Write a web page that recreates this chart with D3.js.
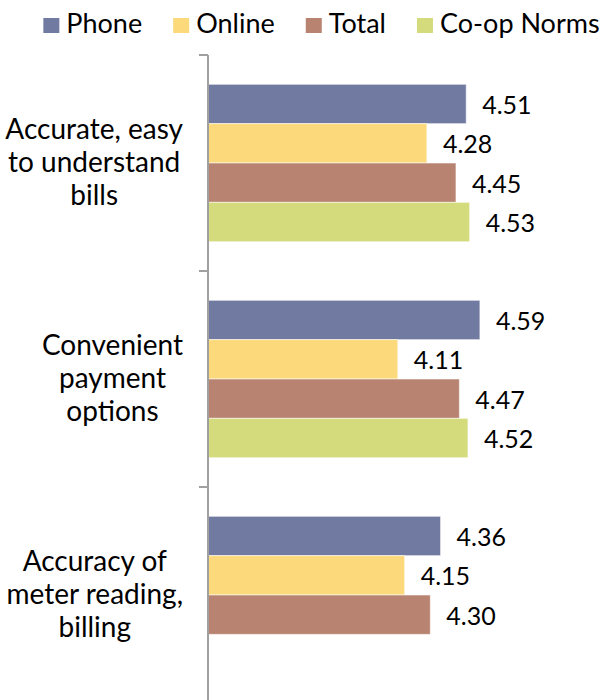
<!DOCTYPE html>
<html>
<head>
<meta charset="utf-8">
<script src="https://cdn.jsdelivr.net/npm/d3@7"></script>
<style>
  html, body { margin: 0; padding: 0; background: #fff; }
  svg { display: block; }
  text { font-family: "Gill Sans", "Gill Sans MT", Lato, sans-serif; fill: #000; }
</style>
</head>
<body>
<svg id="chart" width="605" height="700"></svg>
<script>
// Service attribute ratings by channel
const categories = [
  "Accurate, easy to understand bills",
  "Convenient payment options",
  "Accuracy of meter reading, billing"
];
const categoryLines = [
  ["Accurate, easy", "to understand", "bills"],
  ["Convenient", "payment", "options"],
  ["Accuracy of", "meter reading,", "billing"]
];
const seriesNames = ["Phone", "Online", "Total", "Co-op Norms"];
const phone  = [4.51, 4.59, 4.36];
const online = [4.28, 4.11, 4.15];
const total  = [4.45, 4.47, 4.30];
const coop   = [4.53, 4.52, null];
const seriesValues = [phone, online, total, coop];
const colors = ["#717ba1", "#fcda7b", "#b88370", "#d4db7c"];

const svg = d3.select("#chart");

// Layout
const axisX = 208;
const plotTop = 55;
const bandH = 216;

const x = d3.scaleLinear().domain([3, 5]).range([axisX, 550]);
const y0 = d3.scaleBand().domain(categories)
  .range([plotTop, plotTop + bandH * categories.length]).padding(0);
const y1 = d3.scaleBand().domain(seriesNames)
  .range([29.3, bandH - 29.3]).padding(0);

const color = d3.scaleOrdinal().domain(seriesNames).range(colors);

// Bars
const groups = svg.append("g").selectAll("g")
  .data(categories)
  .join("g")
  .attr("transform", d => `translate(0,${y0(d)})`);

groups.each(function(cat, ci) {
  const g = d3.select(this);
  const rows = seriesNames.map((s, si) => ({ s, v: seriesValues[si][ci] }))
    .filter(r => r.v != null);
  g.selectAll("rect").data(rows).join("rect")
    .attr("x", x(3))
    .attr("y", r => y1(r.s))
    .attr("width", r => x(r.v) - x(3))
    .attr("height", y1.bandwidth())
    .attr("fill", r => color(r.s))
    .attr("stroke", "rgba(255,255,255,0.55)")
    .attr("stroke-width", 1);
  g.selectAll("text.val").data(rows).join("text")
    .attr("class", "val")
    .attr("x", r => x(r.v) + 16)
    .attr("y", r => y1(r.s) + y1.bandwidth() / 2 + 10)
    .attr("font-size", 25)
    .text(r => r.v.toFixed(2));
});

// Vertical category axis
const axisG = svg.append("g");
axisG.append("line")
  .attr("x1", axisX).attr("x2", axisX)
  .attr("y1", plotTop).attr("y2", 700)
  .attr("stroke", "#a0a0a0").attr("stroke-width", 2);
axisG.selectAll("line.tick")
  .data(categories)
  .join("line")
  .attr("class", "tick")
  .attr("x1", axisX - 9).attr("x2", axisX)
  .attr("y1", d => y0(d)).attr("y2", d => y0(d))
  .attr("stroke", "#a0a0a0").attr("stroke-width", 2);

// Category labels: lines centred within a block right-aligned near the axis
const lineH = 33;
categories.forEach((cat, ci) => {
  const lines = categoryLines[ci];
  const cy = y0(cat) + y0.bandwidth() / 2;
  const t = svg.append("g");
  const texts = t.selectAll("text").data(lines).join("text")
    .attr("font-size", 28)
    .attr("text-anchor", "middle")
    .attr("y", (d, i) => cy + (i - (lines.length - 1) / 2) * lineH + 9)
    .text(d => d);
  let maxW = 0;
  texts.each(function() { maxW = Math.max(maxW, this.getComputedTextLength()); });
  texts.attr("x", 183 - maxW / 2);
});

// Legend
const legendGap = 31;
const legend = svg.append("g");
let lx = 0;
seriesNames.forEach((s, i) => {
  const item = legend.append("g").attr("transform", `translate(${lx},0)`);
  item.append("rect").attr("x", 0).attr("y", 18).attr("width", 16).attr("height", 15)
    .attr("fill", color(s));
  const tx = item.append("text").attr("x", 23).attr("y", 33)
    .attr("font-size", 27).text(s);
  lx += 23 + tx.node().getComputedTextLength() + legendGap;
});
const legendW = lx - legendGap;
legend.attr("transform", `translate(${321.5 - legendW / 2},0)`);
</script>
</body>
</html>
